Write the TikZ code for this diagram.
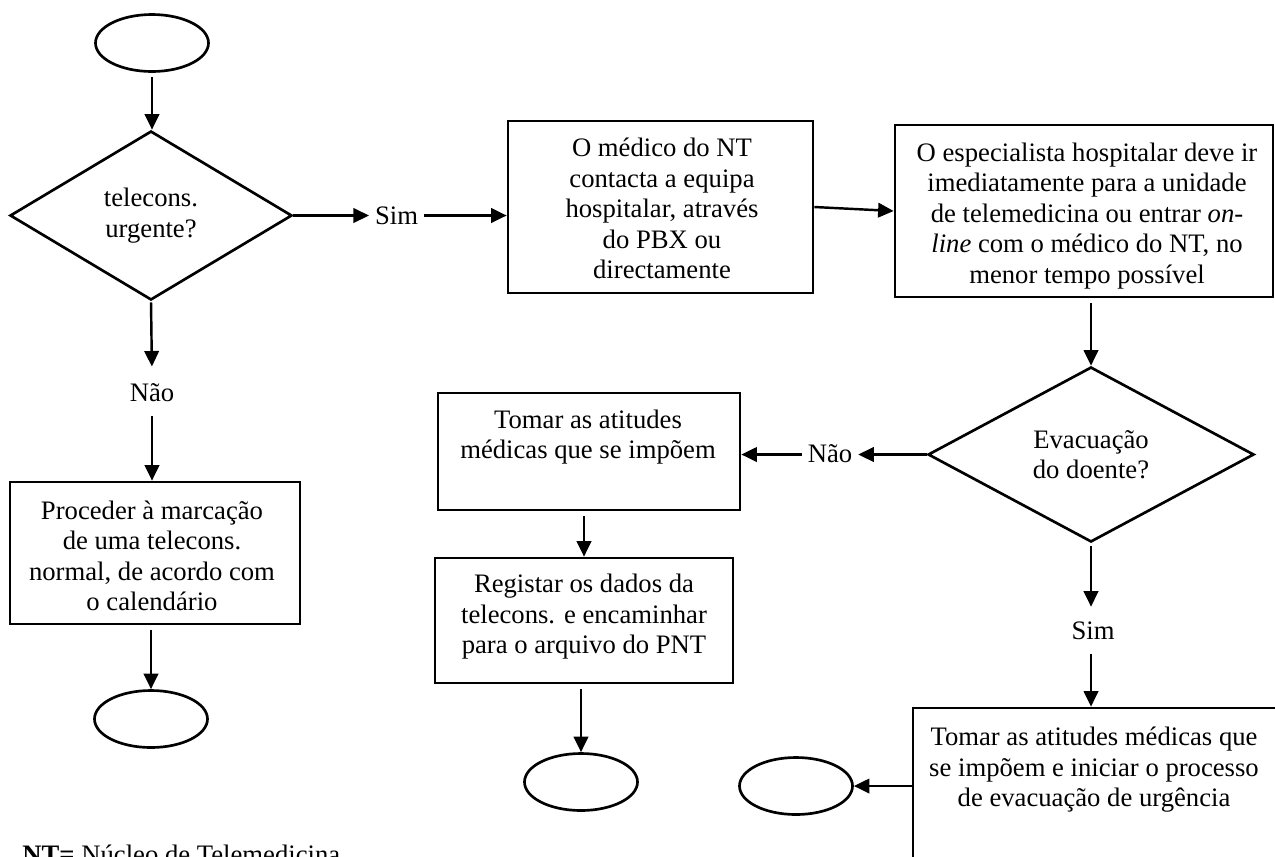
\documentclass[tikz,border=0pt]{standalone}
\usepackage{fontspec}
\setmainfont{Liberation Serif}
\usetikzlibrary{arrows.meta,shapes.geometric}
% one drawing unit = 0.45pt
\newcommand\pxu{0.45pt}
\begin{document}
\begin{tikzpicture}[x=0.45pt,y=-0.45pt,
  every node/.style={font=\fontsize{12}{13.7}\selectfont},
  flow/.style={line width=1.1pt,-{Triangle[length=7pt,width=6.5pt]},shorten <=2pt},
  flowh/.style={flow,shorten <=0pt},
  box/.style={draw,line width=1.2pt,rectangle,inner sep=0pt},
  term/.style={draw,line width=1.2pt,ellipse,inner sep=0pt,
    minimum width=113*\pxu,minimum height=57*\pxu},
  decision/.style={draw,line width=1.2pt,diamond,inner sep=0pt,shape aspect=2,align=center},
  txt/.style={align=center,inner sep=0pt},
  lab/.style={inner xsep=2.5pt,inner ysep=4pt},
]
\useasboundingbox (0,0) rectangle (1275,856);

% left column: start, urgency test, normal booking
\node[term] (start) at (152,43) {};
\node[decision,minimum width=282*\pxu,minimum height=169*\pxu] (urg) at (151,215.5)
  {telecons.\\urgente?};
\node[lab] (nao1) at (152,393) {Não};
\node[box,minimum width=290*\pxu,minimum height=142*\pxu] (marc) at (155,553) {};
\node[txt] (marctxt) at (152,556)
  {Proceder à marcação\\de uma telecons.\\normal, de acordo com\\o calendário};
\node[term] (endA) at (151,719) {};

% urgent branch along the top
\node[lab] (sim1) at (396.5,216) {Sim};
\node[box,minimum width=305*\pxu,minimum height=172*\pxu] (contact) at (660.5,207) {};
\node[txt] (contacttxt) at (662,208.5)
  {O médico do NT\\contacta a equipa\\hospitalar, através\\do PBX ou\\directamente};
\node[box,minimum width=378*\pxu,minimum height=172*\pxu] (spec) at (1084,211) {};
\node[txt] (spectxt) at (1087,216)
  {O especialista hospitalar deve ir\\imediatamente para a unidade\\
   de telemedicina ou entrar \textit{on-}\\\textit{line} com o médico do NT, no\\
   menor tempo possível};

% evacuation decision
\node[decision,minimum width=326*\pxu,minimum height=175*\pxu] (evac) at (1091,454.5)
  {Evacuação\\do doente?};
\node[lab] (nao2) at (830,454) {Não};
\node[box,minimum width=302*\pxu,minimum height=117*\pxu] (atit) at (589,451.5) {};
\node[txt] (atittxt) at (588,437) {Tomar as atitudes\\médicas que se impõem};
\node[box,minimum width=298*\pxu,minimum height=125*\pxu] (reg) at (584,620.5) {};
\node[txt] (regtxt) at (584,617)
  {Registar os dados da\\telecons. e encaminhar\\para o arquivo do PNT};
\node[term] (endB) at (581,782) {};

\node[lab] (sim2) at (1093,631) {Sim};
\node[box,minimum width=377*\pxu,minimum height=192*\pxu] (evproc) at (1101.5,804) {};
\node[txt] (evproctxt) at (1094,770)
  {Tomar as atitudes médicas que\\se impõem e iniciar o processo\\de evacuação de urgência};
\node[term] (endC) at (796,786) {};

% legend
\node[anchor=base west,inner sep=0pt] (legend) at (22,863)
  {\textbf{NT=} Núcleo de Telemedicina};

% connectors
\draw[flow] (start.south) -- (start.south |- urg.north);
\draw[flowh] (urg.east) -- (sim1.west |- urg.east);
\draw[flowh] (sim1.east |- urg.east) -- (contact.west |- urg.east);
\draw[flow,shorten <=0.5pt,shorten >=3.6pt] (urg.south) -- (nao1.north);
\draw[flow] (nao1.south) -- (nao1.south |- marc.north);
\draw[flow] (marc.south -| endA.north) -- (endA.north);
\draw[flowh] (contact.east) -- (spec.west);
\draw[flow] (spec.south -| evac.north) -- (evac.north);
\draw[flowh] (evac.west) -- (nao2.east |- evac.west);
\draw[flowh] (nao2.west |- evac.west) -- (atit.east |- evac.west);
\draw[flow] (atit.south -| reg.north) -- (reg.north);
\draw[flow] (reg.south -| endB.north) -- (endB.north);
\draw[flow,shorten <=1pt,shorten >=2.7pt] (evac.south) -- (evac.south |- sim2.north);
\draw[flow] (evac.south |- sim2.south) -- (evac.south |- evproc.north);
\draw[flowh] (evproc.west |- endC.east) -- (endC.east);
\end{tikzpicture}
\end{document}
